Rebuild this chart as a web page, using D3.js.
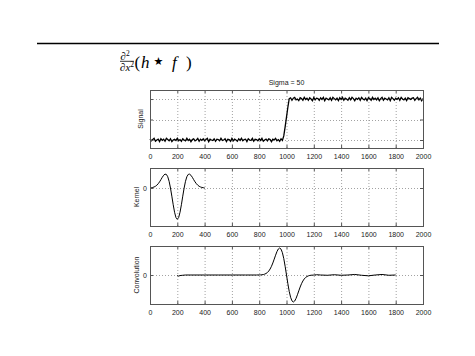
<!DOCTYPE html>
<html><head><meta charset="utf-8">
<script src="https://cdn.jsdelivr.net/npm/d3@7"></script>
<style>body{margin:0;background:#fff}svg{display:block}</style>
</head><body>
<script>
// ---------- data ----------
const xTicks = [0,200,400,600,800,1000,1200,1400,1600,1800,2000];
const titleText = "Sigma = 50";
const panelLabels = ["Signal","Kernel","Convolution"];
const signalStep = 10;
const signalValues = [
0.03,-0.02,0.01,0.04,-0.03,0.00,0.02,-0.04,0.03,-0.01,
0.02,-0.03,0.04,0.01,-0.02,0.03,-0.04,0.00,0.02,-0.01,
0.04,-0.02,0.01,-0.03,0.03,0.00,-0.02,0.04,-0.01,0.02,
-0.04,0.01,0.03,-0.02,0.00,0.04,-0.03,0.02,-0.01,0.03,
-0.02,0.01,0.04,-0.04,0.02,0.00,-0.01,0.03,-0.03,0.02,
0.01,-0.02,0.04,-0.01,0.00,0.03,-0.04,0.02,0.01,-0.03,
0.04,-0.02,0.02,0.00,-0.03,0.03,-0.01,0.04,-0.02,0.01,
0.02,-0.04,0.03,0.00,-0.01,0.04,-0.03,0.02,0.01,-0.02,
0.03,-0.01,0.04,-0.03,0.00,0.02,-0.02,0.03,0.01,-0.04,
0.02,0.00,0.04,-0.02,0.01,-0.03,0.03,-0.01,
0.10,0.32,0.56,0.80,1.01,
1.03,0.97,1.02,1.04,0.98,1.00,0.96,1.03,1.01,0.97,
1.04,0.99,1.02,0.97,1.03,1.00,0.96,1.04,0.98,1.02,
1.01,0.97,1.03,0.99,1.04,0.96,1.02,1.00,0.98,1.03,
0.97,1.04,1.01,0.98,1.02,0.96,1.03,0.99,1.04,0.97,
1.02,1.00,0.97,1.03,0.98,1.04,1.01,0.96,1.02,0.99,
1.03,0.97,1.04,1.00,0.98,1.02,0.96,1.03,1.01,0.97,
1.04,0.99,1.02,0.98,1.03,0.96,1.01,1.04,0.97,1.02,
1.00,0.98,1.03,0.96,1.04,1.01,0.97,1.02,0.99,1.03,
0.97,1.04,1.00,0.98,1.02,0.96,1.03,1.01,0.99,1.02,
1.03,0.97,1.01,1.04,0.98,1.02,0.96,1.01
];
const kernelStep = 10;
const kernelValues = [
0.005,0.010,0.018,0.033,0.055,0.089,0.136,0.196,0.267,0.342,
0.406,0.443,0.434,0.360,0.214,0.000,-0.261,-0.535,-0.775,-0.941,
-1.000,
-0.941,-0.775,-0.535,-0.261,0.000,0.214,0.360,0.434,0.443,0.406,
0.342,0.267,0.196,0.136,0.089,0.055,0.033,0.018,0.010,0.005
];
const convX = [200,210,220,240,260,300,400,500,600,700,780,800,810,820,830,840,850,860,870,880,890,
900,910,920,930,940,950,960,970,980,990,1000,1010,1020,1030,1040,1050,1060,1070,1080,1090,
1100,1110,1120,1130,1140,1150,1160,1170,1180,1190,1200,1220,1250,1300,1350,1400,1450,1500,
1550,1600,1650,1700,1750,1800];
const convY = [-0.02,-0.04,-0.02,-0.01,0.00,0.00,0.00,0.00,0.00,0.00,0.00,0.003,0.005,0.009,0.017,0.032,0.055,0.092,0.146,0.222,0.323,
0.446,0.587,0.733,0.866,0.963,1.000,0.958,0.826,0.609,0.323,0.000,-0.323,-0.609,-0.826,-0.958,-1.000,-0.963,-0.866,-0.733,-0.587,
-0.446,-0.323,-0.222,-0.146,-0.092,-0.055,-0.032,-0.017,-0.009,-0.005,-0.002,0.01,0.00,-0.01,0.01,-0.01,0.00,0.02,
-0.01,-0.03,0.00,0.02,-0.01,0.00];

// ---------- layout ----------
const W = 475, H = 356;
const left = 150, right = 423;
const panels = [
  {top:90, h:58, domain:[-0.195,1.22], yTicks:[0,0.5,1], yLabels:false},
  {top:168, h:58, domain:[-1.214,0.639], yTicks:[0], yLabels:true},
  {top:246, h:58, domain:[-1.074,1.074], yTicks:[0], yLabels:true}
];
const svg = d3.select("body").append("svg").attr("width",W).attr("height",H);
const x = d3.scaleLinear().domain([0,2000]).range([left,right]);
const font = "'Liberation Sans', Arial, sans-serif";

// horizontal rule
svg.append("line").attr("x1",37).attr("x2",439).attr("y1",43.5).attr("y2",43.5)
  .attr("stroke","#000").attr("stroke-width",1.3);

// formula  ∂²/∂x² (h ⋆ f)
const serif = "'Liberation Serif','DejaVu Serif',serif";
const fm = svg.append("g").attr("font-family",serif).attr("fill","#000");
const num = fm.append("text").attr("x",120.5).attr("y",59.5).attr("font-size",11);
num.append("tspan").attr("font-style","italic").text("∂");
num.append("tspan").attr("font-size",7.5).attr("dy",-4).text("2");
fm.append("line").attr("x1",120).attr("x2",134).attr("y1",61.3).attr("y2",61.3).attr("stroke","#000").attr("stroke-width",0.8);
const den = fm.append("text").attr("x",120).attr("y",70.5).attr("font-size",11);
den.append("tspan").attr("font-style","italic").text("∂x");
den.append("tspan").attr("font-size",7.5).attr("dy",-4).text("2");
const par = fm.append("text").attr("y",67.5).attr("font-size",17);
par.append("tspan").attr("x",134.5).text("(");
par.append("tspan").attr("x",141).attr("font-style","italic").text("h");
par.append("tspan").attr("x",153.5).attr("font-family","'DejaVu Sans',sans-serif").attr("font-size",11).attr("dy",-3).text("★");
par.append("tspan").attr("x",172).attr("dy",3).attr("font-style","italic").text("f");
par.append("tspan").attr("x",186).text(")");

// title
svg.append("text").attr("x",(left+right)/2).attr("y",84.5).attr("text-anchor","middle")
  .attr("font-family",font).attr("font-size",7).attr("fill","#222").text(titleText);

const series = [
  signalValues.map((v,i)=>[i*signalStep, v]),
  kernelValues.map((v,i)=>[i*kernelStep, v]),
  convX.map((vx,i)=>[vx, convY[i]])
];

panels.forEach((p,pi)=>{
  const y = d3.scaleLinear().domain(p.domain).range([p.top+p.h, p.top]);
  const g = svg.append("g");
  // grid
  g.selectAll(".gx").data(xTicks.slice(1,-1)).join("line")
    .attr("x1",d=>x(d)+0.5).attr("x2",d=>x(d)+0.5).attr("y1",p.top).attr("y2",p.top+p.h)
    .attr("stroke","#8a8a8a").attr("stroke-width",0.8).attr("stroke-dasharray","1,2");
  g.selectAll(".gy").data(p.yTicks).join("line")
    .attr("x1",left).attr("x2",right).attr("y1",d=>Math.round(y(d))+0.5).attr("y2",d=>Math.round(y(d))+0.5)
    .attr("stroke","#8a8a8a").attr("stroke-width",0.8).attr("stroke-dasharray","1,2");
  // data line
  g.append("path").datum(series[pi])
    .attr("d", d3.line().x(d=>x(d[0])).y(d=>y(d[1])))
    .attr("fill","none").attr("stroke","#000").attr("stroke-width", pi===0?1.3:1);
  // axes (inward ticks, mirrored)
  const bottom = d3.axisBottom(x).tickValues(xTicks).tickSizeInner(-3).tickSizeOuter(0).tickPadding(6)
    .tickFormat(d3.format("d"));
  const ga = g.append("g").attr("transform",`translate(0,${p.top+p.h})`).call(bottom);
  ga.select(".domain").remove();
  ga.selectAll("line").attr("stroke","#555");
  ga.selectAll("text").attr("font-family",font).attr("font-size",7).attr("fill","#222");
  const topAx = d3.axisTop(x).tickValues(xTicks).tickSizeInner(-3).tickSizeOuter(0).tickFormat("");
  const gt = g.append("g").attr("transform",`translate(0,${p.top})`).call(topAx);
  gt.select(".domain").remove(); gt.selectAll("line").attr("stroke","#555");
  const la = d3.axisLeft(y).tickValues(p.yTicks).tickSizeInner(-3).tickSizeOuter(0).tickPadding(3)
    .tickFormat(p.yLabels ? d3.format("d") : "");
  const gl = g.append("g").attr("transform",`translate(${left},0)`).call(la);
  gl.select(".domain").remove(); gl.selectAll("line").attr("stroke","#555");
  gl.selectAll("text").attr("font-family",font).attr("font-size",7).attr("fill","#222");
  const ra = d3.axisRight(y).tickValues(p.yTicks).tickSizeInner(-3).tickSizeOuter(0).tickFormat("");
  const gr = g.append("g").attr("transform",`translate(${right},0)`).call(ra);
  gr.select(".domain").remove(); gr.selectAll("line").attr("stroke","#555");
  // box
  g.append("rect").attr("x",left+0.5).attr("y",p.top+0.5).attr("width",right-left).attr("height",p.h)
    .attr("fill","none").attr("stroke","#555").attr("stroke-width",1);
  // y label
  const lx = pi===0 ? 143 : 138.5;
  g.append("text").attr("transform",`translate(${lx},${p.top+p.h/2}) rotate(-90)`)
    .attr("text-anchor","middle").attr("font-family",font).attr("font-size",7).attr("fill","#222")
    .text(panelLabels[pi]);
});
</script>
</body></html>
